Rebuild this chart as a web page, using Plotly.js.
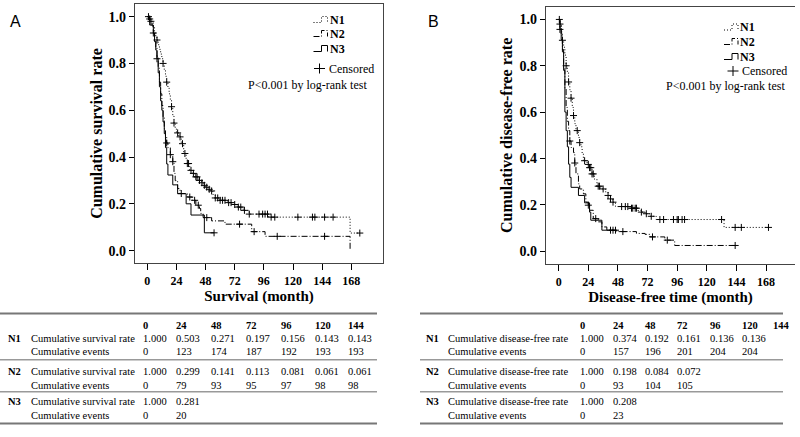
<!DOCTYPE html>
<html><head><meta charset="utf-8">
<script src="https://cdn.plot.ly/plotly-3.0.1.min.js"></script>
<style>html,body{margin:0;padding:0;background:#fff}#chart{width:800px;height:437px}</style>
</head><body><div id="chart"></div>
<script>
// ---------- axis ticks ----------
const timeTicks = [0,24,48,72,96,120,144,168];
const rateTicks = [0,0.2,0.4,0.6,0.8,1.0];

// ---------- Panel A: overall survival (time in months, step drops) ----------
const osN1Time = [0,2,3,5,6,7,8,9,10,11,12,13,14,15,16,17,18,19,20,21,22,23,24,26,28,30,32,33,35,37,39,42,45,46,48,50,52,54,56,60,66,70,74,79,84,100,167];
const osN1Surv = [1,0.99,0.98,0.96,0.93,0.915,0.9,0.88,0.86,0.84,0.82,0.80,0.77,0.745,0.72,0.695,0.67,0.645,0.615,0.575,0.545,0.52,0.503,0.486,0.457,0.415,0.39,0.372,0.343,0.33,0.315,0.30,0.29,0.279,0.271,0.262,0.255,0.24,0.225,0.215,0.205,0.197,0.186,0.172,0.156,0.143,0.075];
const osN1Cens = [1,2,3,8,13,16,20,22,25,27,29,31,33,34,36,38,40,41,43,45,47,49,51,53,56,58,60,62,64,67,69,72,75,77,80,84,92,95,97,99,102,105,124,136,138,146,153,175];

const osN2Time = [0,2,4,5,6,7,8,9,10,11,12,13,14,15,16,17,19,21,22,23,25,27,33,37,40,43,44,46,53,64,86,97,167];
const osN2Surv = [1,0.98,0.96,0.93,0.90,0.87,0.83,0.78,0.72,0.67,0.62,0.57,0.52,0.49,0.46,0.44,0.41,0.38,0.33,0.299,0.265,0.244,0.229,0.215,0.194,0.18,0.159,0.141,0.127,0.113,0.081,0.061,0];
const osN2Cens = [5,16,19,21,28,35,39,42,49,76,88,107,146];

const osN3Time = [0,2,5,6,7,8,9,10,11,12,13,14,15,16,17,21,25,32,36,47];
const osN3Surv = [1,0.964,0.929,0.893,0.857,0.82,0.76,0.70,0.64,0.60,0.55,0.50,0.44,0.37,0.323,0.281,0.243,0.20,0.152,0.076];
const osN3Cens = [8,55];

// ---------- Panel B: disease-free survival ----------
const dfsN1Time = [0,1,2,3,4,5,6,7,8,9,10,11,12,13,14,16,17,18,19,20,23,25,27,29,31,34,38,40,42,44,46,58,64,67,70,74,79,134];
const dfsN1Surv = [1,0.98,0.946,0.91,0.88,0.846,0.80,0.77,0.73,0.696,0.66,0.62,0.585,0.55,0.52,0.49,0.468,0.45,0.42,0.39,0.374,0.36,0.333,0.31,0.28,0.268,0.255,0.24,0.225,0.211,0.192,0.185,0.175,0.168,0.161,0.15,0.136,0.102];
const dfsN1Cens = [0.5,1,3,6,8,10,12,15,17,21,24,25,26,27,28,32,33,36,40,42,44,51,54,56,59,60,62,63,67,71,75,82,85,93,96,97,100,102,132,143,148,170];

const dfsN2Time = [0,1,2,3,4,5,6,7,8,9,10,12,13,14,16,17,20,22,24,25,28,32,35,39,47,63,70,74,86,94];
const dfsN2Surv = [1,0.98,0.93,0.86,0.79,0.70,0.62,0.56,0.52,0.475,0.447,0.425,0.38,0.333,0.29,0.268,0.247,0.211,0.198,0.176,0.14,0.126,0.104,0.09,0.084,0.076,0.072,0.061,0.047,0.024];
const dfsN2Cens = [9,13,24,30,42,46,52,76,88,143];

const dfsN3Time = [0,1,2,3,4,5,6,7,8,9,10,16,21,25,26,35];
const dfsN3Surv = [1,0.957,0.913,0.87,0.78,0.60,0.52,0.45,0.375,0.318,0.275,0.24,0.208,0.168,0.133,0.09];
const dfsN3Cens = [1,44];

// ---------- Tables ----------
const tableTimes = ['0','24','48','72','96','120','144'];
const groupLabels = ['N1','N2','N3'];
const osRowLabels = ['Cumulative survival rate','Cumulative events'];
const dfsRowLabels = ['Cumulative disease-free rate','Cumulative events'];
const osN1Rate = ['1.000','0.503','0.271','0.197','0.156','0.143','0.143'];
const osN1Events = ['0','123','174','187','192','193','193'];
const osN2Rate = ['1.000','0.299','0.141','0.113','0.081','0.061','0.061'];
const osN2Events = ['0','79','93','95','97','98','98'];
const osN3Rate = ['1.000','0.281'];
const osN3Events = ['0','20'];
const dfsN1Rate = ['1.000','0.374','0.192','0.161','0.136','0.136'];
const dfsN1Events = ['0','157','196','201','204','204'];
const dfsN2Rate = ['1.000','0.198','0.084','0.072'];
const dfsN2Events = ['0','93','104','105'];
const dfsN3Rate = ['1.000','0.208'];
const dfsN3Events = ['0','23'];

// ---------- helpers ----------
const W = 800, H = 437;
const X = p => p / W;
const Y = p => 1 - p / H;
const SERIF = 'Liberation Serif, Times New Roman, serif';
const dashN1 = '1px,2px';
const dashN2 = '6px,2px,1px,2px';

function stepAt(times, surv, t) {
  let s = surv[0];
  for (let i = 0; i < times.length; i++) if (times[i] <= t) s = surv[i];
  return s;
}
function curve(times, surv, cens, dash, xa, ya) {
  const xs = times.slice(), ys = surv.slice();
  const lastC = cens.length ? cens[cens.length - 1] : 0;
  if (lastC > times[times.length - 1]) { xs.push(lastC); ys.push(surv[surv.length - 1]); }
  return [
    {type:'scatter', mode:'lines', x:xs, y:ys, xaxis:xa, yaxis:ya, hoverinfo:'skip', showlegend:false,
     line:{shape:'hv', color:'#000', width:1, dash:dash}},
    {type:'scatter', mode:'markers', x:cens, y:cens.map(t => stepAt(times, surv, t)), xaxis:xa, yaxis:ya, showlegend:false,
     marker:{symbol:'cross-thin', size:5, color:'#000', line:{width:1, color:'#000'}}}
  ];
}

const traces = [].concat(
  curve(osN1Time, osN1Surv, osN1Cens, dashN1, 'x', 'y'),
  curve(osN2Time, osN2Surv, osN2Cens, dashN2, 'x', 'y'),
  curve(osN3Time, osN3Surv, osN3Cens, 'solid', 'x', 'y'),
  curve(dfsN1Time, dfsN1Surv, dfsN1Cens, dashN1, 'x2', 'y2'),
  curve(dfsN2Time, dfsN2Surv, dfsN2Cens, dashN2, 'x2', 'y2'),
  curve(dfsN3Time, dfsN3Surv, dfsN3Cens, 'solid', 'x2', 'y2')
);

const annotations = [];
const shapes = [];
function txt(x, y, text, size, opts) {
  annotations.push(Object.assign({xref:'paper', yref:'paper', x:X(x), y:Y(y), text:text, showarrow:false,
    xanchor:'left', yanchor:'middle', font:{family:SERIF, size:size, color:'#000'}}, opts || {}));
}
function line(x0, y0, x1, y1, color, width, dash) {
  shapes.push({type:'line', xref:'paper', yref:'paper', x0:X(x0), y0:Y(y0), x1:X(x1), y1:Y(y1),
    line:{color:color, width:width, dash:dash || 'solid'}});
}
function pathIcon(pts, dash) {
  const d = pts.map((p, i) => (i ? 'L' : 'M') + X(p[0]) + ',' + Y(p[1])).join(' ');
  shapes.push({type:'path', xref:'paper', yref:'paper', path:d, line:{color:'#000', width:1, dash:dash}});
}

// panel letters
const SANS = 'Liberation Sans, Arial, sans-serif';
txt(15, 22, 'A', 16, {xanchor:'center', font:{family:SANS, size:16, color:'#000'}});
txt(433, 22, 'B', 16, {xanchor:'center', font:{family:SANS, size:16, color:'#000'}});

// legends
function legend(ix, tx, ys, cx, cy, ptx, pty) {
  const dashes = [dashN1, dashN2, 'solid'];
  for (let i = 0; i < 3; i++) {
    const b = ys[i] + 2.5, t = ys[i] - 3.5;
    pathIcon([[ix, b], [ix + 8, b], [ix + 8, t], [ix + 14, t], [ix + 14, b]], dashes[i]);
    txt(tx, ys[i], groupLabels[i], 12, {font:{family:SERIF, size:12, color:'#000', weight:'bold'}});
  }
  line(cx - 5.5, cy, cx + 5.5, cy, '#000', 1);
  line(cx, cy - 5, cx, cy + 5, '#000', 1);
  txt(cx + 7, cy, 'Censored', 12);
  txt(ptx, pty, 'P&lt;0.001 by log-rank test', 12);
}
legend(313.5, 328, [20, 34, 49], 319.5, 68.5, 246, 85);
legend(724, 738, [27.5, 42, 57], 733, 71, 664, 86);

// tables
function table(x0, x1, nx, lx, colX, rowLabels, rates, events) {
  line(x0, 313.5, x1, 313.5, '#777', 2);
  line(x0, 359.8, x1, 359.8, '#999', 1.5);
  line(x0, 391.7, x1, 391.7, '#999', 1.5);
  line(x0, 423.5, x1, 423.5, '#777', 2);
  tableTimes.forEach((t, i) => txt(colX[i], 325, t, 10.5, {font:{family:SERIF, size:10.5, color:'#000', weight:'bold'}}));
  const rowY = [[338.3, 351.7], [371.7, 385], [401.7, 415]];
  for (let g = 0; g < 3; g++) {
    txt(nx, rowY[g][0], groupLabels[g], 10.5, {font:{family:SERIF, size:10.5, color:'#000', weight:'bold'}});
    txt(lx, rowY[g][0], rowLabels[0], 10.5);
    txt(lx, rowY[g][1], rowLabels[1], 10.5);
    rates[g].forEach((v, i) => txt(colX[i], rowY[g][0], v, 10.5));
    events[g].forEach((v, i) => txt(colX[i], rowY[g][1], v, 10.5));
  }
}
table(0, 377, 6, 29, [141, 174, 209, 244, 279, 312.5, 345.5], osRowLabels,
      [osN1Rate, osN2Rate, osN3Rate], [osN1Events, osN2Events, osN3Events]);
table(420, 783, 424, 446, [578, 611, 643, 675, 708, 739.5, 771], dfsRowLabels,
      [dfsN1Rate, dfsN2Rate, dfsN3Rate], [dfsN1Events, dfsN2Events, dfsN3Events]);

function xAxis(domain, range, title, anchor) {
  return {domain:domain, range:range, anchor:anchor, tickvals:timeTicks, ticks:'outside', ticklen:6, tickcolor:'#000',
    showline:true, mirror:true, linecolor:'#444', linewidth:1.2, showgrid:false, zeroline:false,
    tickfont:{family:SERIF, size:12, color:'#000', weight:'bold'},
    title:{text:title, standoff:4, font:{family:SERIF, size:15, color:'#000', weight:'bold'}}};
}
function yAxis(domain, range, title, mirror, anchor) {
  return {domain:domain, range:range, anchor:anchor, tickvals:rateTicks, tickformat:'.1f', ticks:'outside', ticklen:5, tickcolor:'#000',
    showline:true, mirror:mirror, linecolor:'#444', linewidth:1.2, showgrid:false, zeroline:false,
    tickfont:{family:SERIF, size:14, color:'#000', weight:'bold'},
    title:{text:title, standoff:2, font:{family:SERIF, size:16, color:'#000', weight:'bold'}}};
}

const layout = {
  width:W, height:H, margin:{l:0, r:0, t:0, b:0}, paper_bgcolor:'#fff', plot_bgcolor:'#fff', showlegend:false,
  xaxis: xAxis([X(135), X(383)], [-10.1, 194.1], 'Survival (month)', 'y'),
  yaxis: yAxis([Y(263), Y(4)], [-0.053, 1.054], 'Cumulative survival rate', true, 'x'),
  xaxis2: xAxis([X(546), X(795)], [-10.3, 191.5], 'Disease-free time (month)', 'y2'),
  yaxis2: yAxis([Y(264), Y(6.7)], [-0.056, 1.055], 'Cumulative disease-free rate', false, 'x2'),
  annotations:annotations, shapes:shapes
};

Plotly.newPlot('chart', traces, layout, {displayModeBar:false, staticPlot:true});
</script></body></html>
